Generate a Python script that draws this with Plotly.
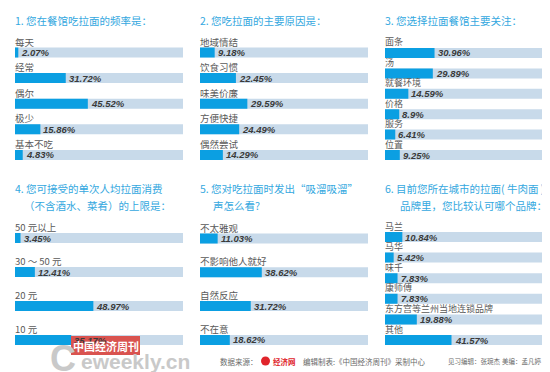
import plotly.graph_objects as go

W, H = 550, 372

# ---------------- data ----------------
titles1 = ["1. 您在餐馆吃拉面的频率是："]
cats1 = ["每天", "经常", "偶尔", "极少", "基本不吃"]
vals1 = [2.07, 31.72, 45.52, 15.86, 4.83]

titles2 = ["2. 您吃拉面的主要原因是："]
cats2 = ["地域情结", "饮食习惯", "味美价廉", "方便快捷", "偶然尝试"]
vals2 = [9.18, 22.45, 29.59, 24.49, 14.29]

titles3 = ["3. 您选择拉面餐馆主要关注："]
cats3 = ["面条", "汤", "就餐环境", "价格", "服务", "位置"]
vals3 = [30.96, 29.89, 14.59, 8.9, 6.41, 9.25]

titles4 = ["4. 您可接受的单次人均拉面消费", "（不含酒水、菜肴）的上限是："]
cats4 = ["50 元以上", "30 ～ 50 元", "20 元", "10 元"]
vals4 = [3.45, 12.41, 48.97, 35.17]

titles5 = ["5. 您对吃拉面时发出“吸溜吸溜”", "声怎么看?"]
cats5 = ["不太雅观", "不影响他人就好", "自然反应", "不在意"]
vals5 = [11.03, 38.62, 31.72, 18.62]

titles6 = ["6. 目前您所在城市的拉面( 牛肉面 )", "品牌里，您比较认可哪个品牌："]
cats6 = ["马兰", "马华", "味千", "康师傅", "东方宫等兰州当地连锁品牌", "其他"]
vals6 = [10.84, 5.42, 7.83, 7.83, 19.88, 41.57]

footer_source = "数据来源："
footer_site = "经济网"
footer_editor = "编辑制表:《中国经济周刊》采制中心"
footer_intern = "见习编辑：张琬杰"
footer_art = "美编：孟凡婷"
watermark_cn = "中国经济周刊"
watermark_en = "eweekly.cn"

# ---------------- style / layout ----------------
TRACK_MAX = 105
BLUE = "#0b9fe2"
TRACK = "#c8daea"
TITLE_C = "#34a8e0"
LABEL_C = "#5a5a5a"
VAL_C = "#3a3a3a"
CJK = "Noto Sans CJK SC"
LAT = "Liberation Sans"

cols_px = [(7, 175), (192, 360), (377, 545)]
# (cats, vals, titles, col, first bar center px, spacing px, title y px, 2nd-line x px, label size)
panels = [
    (cats1, vals1, titles1, 0, 44.5, 25.6, 13, None, 9.5),
    (cats2, vals2, titles2, 1, 44.5, 25.6, 13, None, 9.5),
    (cats3, vals3, titles3, 2, 45.0, 20.4, 13, None, 9),
    (cats4, vals4, titles4, 0, 230.0, 34.0, 180, 14, 9.5),
    (cats5, vals5, titles5, 1, 230.5, 33.8, 180, 203, 9.5),
    (cats6, vals6, titles6, 2, 229.0, 20.6, 180, 390, 9),
]

def px_x(x):
    return x / W

def px_y(y):
    return 1 - y / H

fig = go.Figure()
annotations = []
layout_axes = {}

for k, (cats, vals, titles, col, c0, s, ty, x2, lsz) in enumerate(panels, start=1):
    n = len(cats)
    xa = "x" if k == 1 else f"x{k}"
    ya = "y" if k == 1 else f"y{k}"
    xl = "xaxis" if k == 1 else f"xaxis{k}"
    yl = "yaxis" if k == 1 else f"yaxis{k}"
    x0p, x1p = cols_px[col]
    top = c0 - s / 2
    bot = c0 + (n - 1) * s + s / 2
    layout_axes[xl] = dict(domain=[px_x(x0p), px_x(x1p)], range=[0, TRACK_MAX],
                           visible=False, fixedrange=True, anchor=ya)
    layout_axes[yl] = dict(domain=[px_y(bot), px_y(top)], range=[n - 0.5, -0.5],
                           visible=False, fixedrange=True, anchor=xa)
    idx = list(range(n))
    bw = 10.0 / s
    fig.add_trace(go.Bar(x=[TRACK_MAX] * n, y=idx, orientation="h", width=bw,
                         marker=dict(color=TRACK, line=dict(width=0)),
                         xaxis=xa, yaxis=ya, hoverinfo="skip", showlegend=False))
    fig.add_trace(go.Bar(x=vals, y=idx, orientation="h", width=bw,
                         marker=dict(color=BLUE, line=dict(width=0)),
                         xaxis=xa, yaxis=ya, showlegend=False))
    for i, (c, v) in enumerate(zip(cats, vals)):
        annotations.append(dict(xref=xa, yref=ya, x=0, y=i, text=c, showarrow=False,
                                xanchor="left", yanchor="middle", yshift=11, xshift=-2,
                                font=dict(family=CJK, size=lsz, color=LABEL_C)))
        annotations.append(dict(xref=xa, yref=ya, x=v, y=i, text=f"<b><i>{v}%</i></b>",
                                showarrow=False, xanchor="left", yanchor="middle", xshift=1,
                                font=dict(family=LAT, size=9.5, color=VAL_C)))
    # titles
    annotations.append(dict(xref="paper", yref="paper", x=px_x(x0p - 2), y=px_y(ty),
                            text=titles[0], showarrow=False, xanchor="left", yanchor="middle",
                            font=dict(family=CJK, size=10.5, color=TITLE_C)))
    if len(titles) > 1:
        annotations.append(dict(xref="paper", yref="paper", x=px_x(x2), y=px_y(ty + 17),
                                text=titles[1], showarrow=False, xanchor="left", yanchor="middle",
                                font=dict(family=CJK, size=10.5, color=TITLE_C)))

fig.update_layout(**layout_axes)

# footer
fy = px_y(353)
ft = dict(family=CJK, size=7.5, color="#6a6a6a")
annotations += [
    dict(xref="paper", yref="paper", x=px_x(210), y=fy, text=footer_source, showarrow=False,
         xanchor="left", yanchor="middle", font=ft),
    dict(xref="paper", yref="paper", x=px_x(263), y=fy, text=f"<b>{footer_site}</b>", showarrow=False,
         xanchor="left", yanchor="middle", font=dict(family=CJK, size=7.5, color="#e0242b")),
    dict(xref="paper", yref="paper", x=px_x(293), y=fy, text=footer_editor, showarrow=False,
         xanchor="left", yanchor="middle", font=ft),
    dict(xref="paper", yref="paper", x=px_x(438), y=fy, text=footer_intern, showarrow=False,
         xanchor="left", yanchor="middle", font=dict(family=CJK, size=6.5, color="#6a6a6a")),
    dict(xref="paper", yref="paper", x=px_x(492), y=fy, text=footer_art, showarrow=False,
         xanchor="left", yanchor="middle", font=dict(family=CJK, size=6.5, color="#6a6a6a")),
]

# watermark
annotations += [
    dict(xref="paper", yref="paper", x=px_x(40), y=px_y(350), text="<b>C</b>", showarrow=False,
         xanchor="left", yanchor="middle", font=dict(family=LAT, size=36, color="#c9c9c9")),
    dict(xref="paper", yref="paper", x=px_x(71), y=px_y(353), text=f"<b>{watermark_en}</b>",
         showarrow=False, xanchor="left", yanchor="middle",
         font=dict(family=LAT, size=21, color="#c9c9c9")),
    dict(xref="paper", yref="paper", x=px_x(97.5), y=px_y(337.5), text=f"<b>{watermark_cn}</b>",
         showarrow=False, xanchor="center", yanchor="middle",
         font=dict(family=CJK, size=11, color="#ffffff")),
]

shapes = [
    dict(type="rect", xref="paper", yref="paper", x0=px_x(63), x1=px_x(132),
         y0=px_y(347), y1=px_y(328), fillcolor="#d9534f", line=dict(width=0), layer="above"),
    dict(type="circle", xref="paper", yref="paper", x0=px_x(253), x1=px_x(262),
         y0=px_y(357.5), y1=px_y(348.5), fillcolor="#e0242b", line=dict(width=0)),
]

fig.update_layout(
    width=W, height=H,
    margin=dict(l=0, r=0, t=0, b=0),
    paper_bgcolor="white", plot_bgcolor="white",
    barmode="overlay",
    annotations=annotations,
    shapes=shapes,
)

fig.write_html("out.html")
